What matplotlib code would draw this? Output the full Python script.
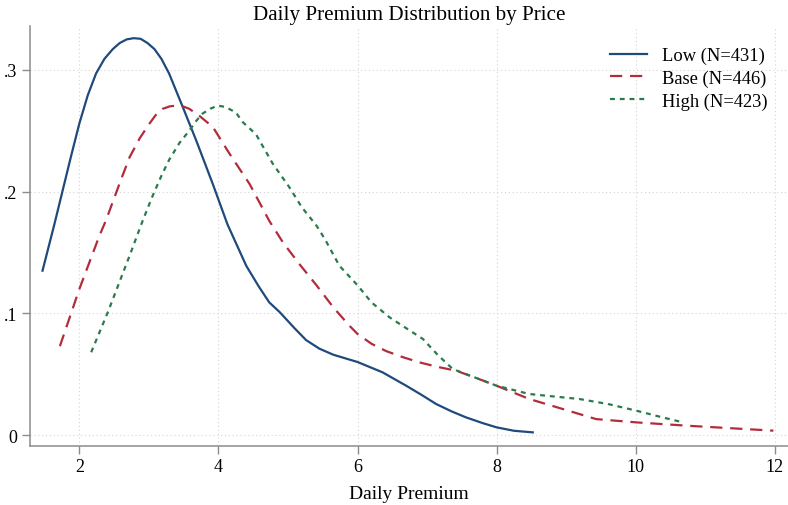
import numpy as np
import matplotlib
matplotlib.use("Agg")
import matplotlib.pyplot as plt
from matplotlib.ticker import FixedLocator

# ---------------------------------------------------------------- data
low_x = [1.47, 1.64, 1.76, 1.88, 2.00, 2.12, 2.24, 2.36, 2.48, 2.58, 2.68, 2.78, 2.88, 2.98,
         3.08, 3.18, 3.29, 3.49, 3.68, 3.92, 4.13, 4.40, 4.58, 4.73, 4.88, 5.09, 5.26, 5.45,
         5.65, 6.00, 6.36, 6.70, 6.92, 7.13, 7.35, 7.56, 7.80, 8.00, 8.25, 8.52]
low_y = [0.135, 0.173, 0.201, 0.229, 0.256, 0.279, 0.297, 0.309, 0.317, 0.322, 0.325, 0.326,
         0.3255, 0.322, 0.317, 0.309, 0.297, 0.269, 0.242, 0.206, 0.173, 0.139, 0.122, 0.109,
         0.101, 0.088, 0.078, 0.071, 0.066, 0.060, 0.0515, 0.0405, 0.033, 0.0255, 0.0195,
         0.0145, 0.0098, 0.0063, 0.0035, 0.0022]

base_x = [1.72, 2.00, 2.29, 2.38, 2.60, 2.72, 2.87, 3.01, 3.10, 3.20, 3.30, 3.39, 3.48, 3.58,
          3.73, 3.92, 4.16, 4.45, 4.73, 4.93, 5.17, 5.41, 5.65, 5.88, 6.00, 6.20, 6.41, 6.65,
          6.89, 7.15, 7.42, 7.70, 8.00, 8.47, 8.95, 9.43, 10.01, 10.73, 11.40, 11.98]
base_y = [0.073, 0.120, 0.164, 0.176, 0.210, 0.228, 0.244, 0.256, 0.263, 0.268, 0.2700,
          0.2706, 0.2702, 0.268, 0.262, 0.253, 0.231, 0.206, 0.176, 0.158, 0.140, 0.123,
          0.105, 0.090, 0.083, 0.075, 0.069, 0.064, 0.0597, 0.056, 0.0528, 0.047, 0.0405,
          0.0296, 0.0214, 0.0131, 0.0104, 0.0077, 0.0055, 0.0036]

high_x = [2.17, 2.41, 2.72, 2.91, 3.05, 3.18, 3.29, 3.44, 3.58, 3.68, 3.77, 3.88, 3.99, 4.10,
          4.25, 4.35, 4.54, 4.78, 5.02, 5.20, 5.41, 5.53, 5.74, 6.00, 6.20, 6.46, 6.68, 6.94,
          7.15, 7.37, 7.70, 8.00, 8.47, 9.19, 9.60, 10.01, 10.35, 10.68]
high_y = [0.068, 0.101, 0.147, 0.176, 0.196, 0.213, 0.226, 0.240, 0.250, 0.258, 0.264,
          0.268, 0.2706, 0.2695, 0.265, 0.257, 0.247, 0.223, 0.2035, 0.187, 0.172, 0.161,
          0.139, 0.123, 0.109, 0.0967, 0.0885, 0.0789, 0.066, 0.0542, 0.047, 0.0405, 0.0337,
          0.0296, 0.0255, 0.020, 0.015, 0.0104]

labels = ["Low (N=431)", "Base (N=446)", "High (N=423)"]
x_ticks = [2, 4, 6, 8, 10, 12]
y_ticks = [0, 0.1, 0.2, 0.3]
y_ticklabels = ["0", ".1", ".2", ".3"]

# ---------------------------------------------------------------- style
plt.rcParams.update({
    "font.family": ["Liberation Serif", "DejaVu Serif"],
    "font.size": 12,
})
C_LOW = "#1f4a7c"
C_BASE = "#b22c3c"
C_HIGH = "#2a7b4c"
C_AX = "#8c8c8c"
C_GRID = "#d4d4d4"

fig = plt.figure(figsize=(7.88, 5.06), dpi=100)
ax = fig.add_axes([30 / 788, 59 / 506, 758 / 788, 420 / 506])

ax.plot(low_x, low_y, color=C_LOW, lw=1.6, ls="-", label=labels[0])
ax.plot(base_x, base_y, color=C_BASE, lw=1.6, ls=(0, (5.5, 3.5)), label=labels[1])
ax.plot(high_x, high_y, color=C_HIGH, lw=1.6, ls=(0, (2.2, 2.2)), label=labels[2])

# ---------------------------------------------------------------- axes
ax.set_xlim(1.29, 12.19)
ax.set_ylim(-0.009, 0.336)
ax.xaxis.set_major_locator(FixedLocator(x_ticks))
ax.yaxis.set_major_locator(FixedLocator(y_ticks))
ax.set_yticklabels(y_ticklabels)
ax.tick_params(axis="both", direction="out", length=6, width=1.0, color=C_AX,
               labelsize=13, pad=3)

for s in ("top", "right"):
    ax.spines[s].set_visible(False)
for s in ("left", "bottom"):
    ax.spines[s].set_color(C_AX)
    ax.spines[s].set_linewidth(1.1)

ax.grid(True, ls=(0, (1, 2.5)), lw=0.8, color=C_GRID)
ax.set_axisbelow(True)

ax.set_xlabel("Daily Premium", fontsize=14, labelpad=7)
ax.set_title("Daily Premium Distribution by Price", fontsize=15.2, pad=5)

leg = ax.legend(loc="upper right", bbox_to_anchor=(0.995, 0.99), frameon=False,
                fontsize=13.3, handlelength=2.0, handletextpad=0.8, labelspacing=0.3)

fig.savefig("out.png", dpi=100)
